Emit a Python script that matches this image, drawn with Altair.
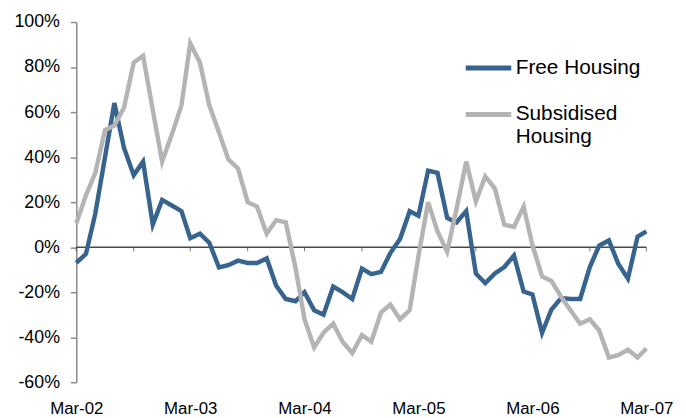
import altair as alt
import pandas as pd

# Monthly observations, Mar-2002 .. Mar-2007 (61 months)
months = [f"{2002 + (2 + i) // 12}-{(2 + i) % 12 + 1:02d}-01" for i in range(61)]

free_housing = [
    -7, -3, 15, 40, 64, 44, 32, 38, 10, 21, 18.5, 16, 4, 6, 2, -9, -8, -6, -7, -7, -5,
    -17, -23, -24, -20, -28, -30, -17.5, -20, -23, -9.5, -12, -11, -2.6, 3.6, 16, 14,
    34, 33, 13, 11, 16,
    -11.7, -16, -11.7, -8.8, -3.7, -19.7, -21, -38, -27.7, -22.6, -23, -23, -8.8, 0.7,
    3, -7.3, -14, 4.7, 7,
]
subsidised_housing = [
    10.5, 23, 33, 52, 54, 62, 82, 85, 61, 38, 50, 63, 90.5, 82, 63, 51, 39, 35, 20, 18, 6,
    12, 11, -9, -32, -44.5, -38, -34, -42, -47, -39, -42, -29, -25.5, -32, -28, -4,
    20, 7, -2, 17, 38,
    20.4, 31.4, 26, 10, 9, 18, 1, -13, -15, -22, -28, -34, -32, -37, -49, -48, -45.5,
    -49, -45,
]

series_names = ["Free Housing", "Subsidised Housing"]
series_colors = ["#37638f", "#b4b4b4"]
y_ticks = [-60, -40, -20, 0, 20, 40, 60, 80, 100]
label_years = [2002, 2003, 2004, 2005, 2006, 2007]
tick_dates = [f"{y}-{m:02d}-01" for y in range(2002, 2008) for m in (3, 9) if not (y == 2007 and m == 9)]

df = pd.DataFrame({
    "date": months * 2,
    "value": free_housing + subsidised_housing,
    "series": [series_names[0]] * len(months) + [series_names[1]] * len(months),
})

x_scale = alt.Scale(
    type="utc",
    domain=[alt.DateTime(year=2002, month=3, date=1, utc=True),
            alt.DateTime(year=2007, month=3, date=1, utc=True)],
    nice=False,
)
y_scale = alt.Scale(domain=[-60, 100], nice=False)

x_axis = alt.Axis(
    title=None, values=[alt.DateTime(year=y, month=3, date=1, utc=True) for y in label_years],
    format="%b-%y", domain=False, ticks=False, tickSize=0, grid=False,
    labelFontSize=17, labelPadding=19, labelColor="#000", labelFlush=False,
)
y_axis = alt.Axis(
    title=None, values=y_ticks, labelExpr="datum.value + '%'", grid=False,
    tickSize=6, labelPadding=11, domainColor="#8a8a8a", tickColor="#8a8a8a",
    domainWidth=1.5, tickWidth=1.5, labelFontSize=18, labelColor="#000",
)

lines = alt.Chart(df).mark_line(strokeWidth=4.5).encode(
    x=alt.X("date:T", scale=x_scale, axis=x_axis),
    y=alt.Y("value:Q", scale=y_scale, axis=y_axis),
    color=alt.Color("series:N", scale=alt.Scale(domain=series_names, range=series_colors),
                    legend=alt.Legend(
                        title=None, orient="none", legendX=391, legendY=21,
                        symbolType="stroke", symbolSize=2116, symbolStrokeWidth=5,
                        labelFontSize=21, labelOffset=2, rowPadding=11, padding=0,
                        labelLimit=300, labelColor="#000",
                        labelExpr="datum.label == 'Subsidised Housing' ? ['Subsidised', 'Housing'] : datum.label",
                    )),
)

zero_rule = alt.Chart(pd.DataFrame({"value": [0]})).mark_rule(
    color="#4a4a4a", strokeWidth=1.5
).encode(y=alt.Y("value:Q", scale=y_scale, axis=y_axis))

ticks = alt.Chart(pd.DataFrame({"date": tick_dates})).mark_tick(
    orient="vertical", size=4, thickness=1, color="#333", yOffset=2
).encode(
    x=alt.X("date:T", scale=x_scale, axis=x_axis),
    y=alt.datum(0),
)

chart = alt.layer(zero_rule, ticks, lines).properties(
    width=576, height=364,
    padding={"left": 5, "top": 3, "right": 5, "bottom": 5},
).configure_view(stroke=None).configure_axis(
    labelFont="Liberation Sans"
).configure_legend(labelFont="Liberation Sans")

chart.save("out.html", embed_options={"renderer": "svg", "actions": False})
